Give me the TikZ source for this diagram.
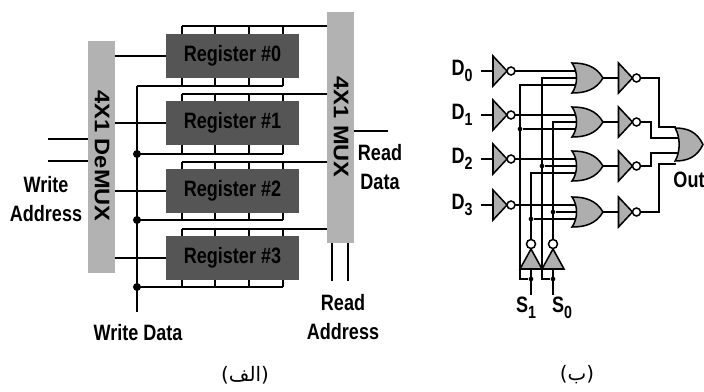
\documentclass[tikz,border=0pt]{standalone}
\usepackage{fontspec}
\usepackage{tikz}
\setmainfont{Liberation Sans}
\newfontfamily\labelfont[FakeStretch=0.81]{Liberation Sans}
\newfontfamily\muxfont[FakeStretch=1.12]{Liberation Sans}
\newfontfamily\arabicfont[Script=Arabic]{DejaVu Sans}
\TeXXeTstate=1
\definecolor{muxgray}{HTML}{B2B2B2}
\definecolor{reggray}{HTML}{555555}
\definecolor{gategray}{HTML}{AEAEAE}
\newcommand{\pinsub}[1]{\raisebox{-0.28em}{\fontsize{15}{15}\selectfont #1}}
\tikzset{
	wire/.style={line width=1.8pt, black},
	thin wire/.style={line width=1.3pt, black},
	mux/.style={fill=muxgray, inner sep=0pt, minimum width=0.81cm},
	register/.style={fill=reggray, inner sep=0pt, minimum width=3.99cm, minimum height=1.32cm, font=\labelfont\bfseries\fontsize{19}{20}\selectfont},
	caption/.style={font=\labelfont\bfseries\fontsize{19}{20}\selectfont, align=center, inner sep=0pt},
	wdot/.style={circle, fill=black, inner sep=0pt, minimum size=0.24cm},
	sdot/.style={circle, fill=black, inner sep=0pt, minimum size=0.14cm},
	farsi/.style={font=\arabicfont\fontsize{17}{18}\selectfont, inner sep=0pt},
	invpic/.pic={
		\draw[thin wire, fill=gategray] (-7,-15) -- (7,0) -- (-7,15) -- cycle;
		\draw[thin wire, fill=white] (11,0) circle (4);
		\coordinate (-input) at (-7,0);
		\coordinate (-output) at (15,0);
	},
	selpic/.pic={
		\draw[thin wire, fill=gategray] (-11,10) -- (0,-10) -- (11,10) -- cycle;
		\draw[thin wire, fill=white] (0,-15) circle (4.5);
		\coordinate (-input) at (0,10);
		\coordinate (-output) at (0,-19.5);
	},
	orpic/.pic={
		\draw[thin wire, fill=gategray] (-16,-15) .. controls (-3,-15) and (8,-12) .. (15,0)
			.. controls (8,12) and (-3,15) .. (-16,15)
			.. controls (-10,7) and (-10,-7) .. (-16,-15) -- cycle;
		\coordinate (-a) at (-12.5,-7);
		\coordinate (-b) at (-11.5,0);
		\coordinate (-c) at (-12.5,7);
		\coordinate (-output) at (15,0);
	}
}
\begin{document}
\begin{tikzpicture}[x=0.03cm, y=-0.03cm]
	\useasboundingbox (0,0) rectangle (704,391);

	% left part
	\node[mux, minimum height=6.96cm] (demux) at (101.5,157) {};
	\node[mux, minimum height=6.93cm] (readmux) at (340.5,127.5) {};
	\node[font=\muxfont\bfseries\fontsize{18}{20}\selectfont, rotate=-90, inner sep=0pt] (demuxname) at (102,156) {4X1 DeMUX};
	\node[font=\muxfont\bfseries\fontsize{18}{20}\selectfont, rotate=-90, inner sep=0pt] (muxname) at (341,127) {4X1 MUX};

	\coordinate (wdtop) at (137,86);
	\coordinate (wdend) at (137,312);
	\draw[wire] (wdtop) -- (wdend);

	\foreach \idx/\rowy/\topy/\boty in {
		0/56/26/86,
		1/123/94/154,
		2/191/162/220,
		3/258/229/287}
	{
		\node[register] (reg\idx) at (232.5,\rowy) {Register \#\idx};
		\draw[wire] (reg\idx.west) -- (reg\idx.west -| demux.east);
		\draw[wire] (182,\topy) -- (182,\topy -| readmux.west);
		\draw[wire] (137,\boty) -- (283,\boty);
		\foreach \stubx in {182,215,249,283}
		{
			\draw[wire] (\stubx,\topy) -- (\stubx,0 |- reg\idx.north);
			\draw[wire] (\stubx,\boty) -- (\stubx,0 |- reg\idx.south);
		};
	};
	\foreach \name/\doty in {dotb/154, dotc/220, dotd/287}
		\node[wdot] (\name) at (137,\doty) {};

	\coordinate (wa0) at (48,139);
	\coordinate (wa1) at (48,161);
	\coordinate (rd0) at (388,131);
	\coordinate (ra0) at (332,281);
	\coordinate (ra1) at (348,281);
	\draw[wire] (wa0) -- (wa0 -| demux.west);
	\draw[wire] (wa1) -- (wa1 -| demux.west);
	\draw[wire] (rd0) -- (rd0 -| readmux.east);
	\draw[wire] (ra0) -- (ra0 |- readmux.south);
	\draw[wire] (ra1) -- (ra1 |- readmux.south);

	\node[caption] (writeaddr) at (46,199) {Write\\[4.6pt]Address};
	\node[caption] (readdata) at (380,167) {Read\\[4.6pt]Data};
	\node[caption] (writedata) at (138,333) {Write Data};
	\node[caption] (readaddr) at (343,317) {Read\\[4.6pt]Address};
	\node[farsi] (capa) at (245,375) {\beginR(الف)\endR};

	% right part
	\foreach \idx/\rowy in {0/71, 1/115, 2/159, 3/205}
	{
		\node[caption] (dname\idx) at (462,\rowy) {D\pinsub{\idx}};
		\coordinate (din\idx) at (481,\rowy);
		\pic (inv\idx) at (500,\rowy) {invpic};
		\draw[thin wire] (din\idx) -- (inv\idx-input);
	};
	\foreach \idx/\rowy in {0/78, 1/122, 2/166, 3/212}
	{
		\pic (or\idx) at (588,\rowy) {orpic};
		\pic (ninv\idx) at (625.5,\rowy) {invpic};
		\draw[thin wire] (inv\idx-output) -- (or\idx-a);
		\draw[thin wire] (or\idx-output) -- (ninv\idx-input);
	};

	\pic (sinv1) at (531,259) {selpic};
	\pic (sinv0) at (553,259) {selpic};
	\node[sdot] (dots1) at (531,279) {};
	\node[sdot] (dots0) at (553,279) {};
	\coordinate (railA) at (520,279);
	\coordinate (railB) at (542,279);
	\coordinate (pins1) at (531,295);
	\coordinate (pins0) at (553,295);
	\draw[thin wire] (sinv1-input) -- (pins1);
	\draw[thin wire] (sinv0-input) -- (pins0);
	\draw[thin wire] (dots1) -- (railA) |- (or0-c);
	\draw[thin wire] (dots0) -- (railB) |- (or0-b);
	\draw[thin wire] (sinv1-output) |- (or2-c);
	\draw[thin wire] (sinv0-output) |- (or1-b);
	\node[sdot] (tap1) at (railA |- or1-c) {};
	\node[sdot] (tap2) at (railB |- or2-b) {};
	\node[sdot] (tap3) at (sinv0-output |- or3-b) {};
	\node[sdot] (tap4) at (sinv1-output |- or3-c) {};
	\draw[thin wire] (tap1) -- (or1-c);
	\draw[thin wire] (tap2) -- (or2-b);
	\draw[thin wire] (tap3) -- (or3-b);
	\draw[thin wire] (tap4) -- (or3-c);

	\pic[xscale=0.9, yscale=1.1] (orout) at (689.5,144.5) {orpic};
	\coordinate (outa) at (676,127);
	\coordinate (outb) at (679,138);
	\coordinate (outc) at (679,153);
	\coordinate (outd) at (676,164);
	\draw[thin wire] (ninv0-output) -| (659,127) -- (outa);
	\draw[thin wire] (ninv1-output) -| (651,138) -- (outb);
	\draw[thin wire] (ninv2-output) -| (651,153) -- (outc);
	\draw[thin wire] (ninv3-output) -| (659,164) -- (outd);

	\node[caption] (outname) at (689,180) {Out};
	\node[caption] (sname1) at (526,308) {S\pinsub{1}};
	\node[caption] (sname0) at (562,308) {S\pinsub{0}};
	\node[farsi] (capb) at (577,375) {\beginR(ب)\endR};
\end{tikzpicture}
\end{document}
